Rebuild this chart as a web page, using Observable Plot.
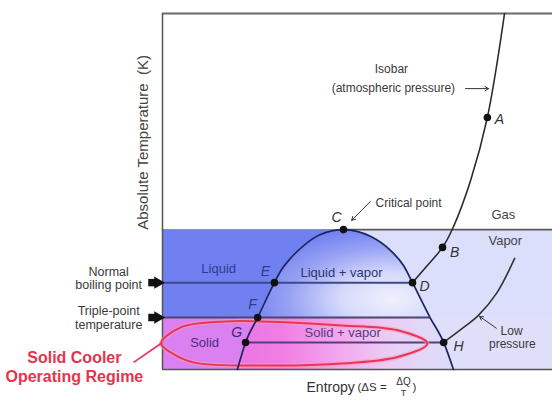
<!DOCTYPE html>
<html><head><meta charset="utf-8">
<script src="https://cdn.jsdelivr.net/npm/d3@7"></script>
<script src="https://cdn.jsdelivr.net/npm/@observablehq/plot@0.6"></script>
<style>body{margin:0;background:#fff;} svg{display:block;}</style>
</head><body><div id="chart"></div>
<script>
// Temperature levels (arbitrary units, 0..100)
const T_CRIT = 39.3, T_BOIL = 24.4, T_TRIPLE = 14.6, T_SV = 7.6;
// Entropy positions of key points
const S_C = 46.4, S_D = 64.1, S_R = 68.6, S_G = 21.3, S_H = 72.1;

// Saturation dome + fusion line (entropy, temperature)
const domeS = [19.2, 21.3, 24.4, 28.7, 30.5, 32.8, 36.2, 40.5, 46.4, 53.3, 58.5, 61.8, 64.1, 68.6, 72.1, 74.6];
const domeT = [0, 7.6, 14.6, 24.4, 28.0, 31.2, 34.8, 37.9, 39.3, 37.4, 33.4, 29.2, 24.4, 14.6, 7.6, 0];
const dome = domeS.map((s, i) => ({s, t: domeT[i]}));
const domeUpper = dome.slice(2, 14);
const domeLower = [...dome.slice(0, 3), ...dome.slice(13)];

// Isobar (atmospheric pressure)
const isoS = [87.7, 83.3, 79.0, 74.4, 71.8, 67.9, 64.1];
const isoT = [100, 70.8, 53.1, 39.6, 34.3, 29.2, 24.4];
const isobar = isoS.map((s, i) => ({s, t: isoT[i]}));

// Low-pressure isobar
const lowS = [72.1, 77.2, 81.0, 85.6, 90.3];
const lowT = [7.6, 11.8, 15.2, 21.3, 31.2];
const lowP = lowS.map((s, i) => ({s, t: lowT[i]}));

// Marked states
const pointNames = ["A", "B", "C", "D", "E", "F", "G", "H"];
const pointS = [83.3, 71.8, 46.4, 64.1, 28.7, 24.4, 21.3, 72.1];
const pointT = [70.8, 34.3, 39.3, 24.4, 24.4, 14.6, 7.6, 7.6];
const points = pointNames.map((n, i) => ({n, s: pointS[i], t: pointT[i]}));

// Solid cooler operating regime outline
const ellS = [-0.4, 4.6, 16.2, 27.7, 44.9, 60.3, 67.9, 60.3, 44.9, 27.7, 7.9, 2.1];
const ellT = [7.3, 11.8, 13.5, 13.4, 12.4, 11.0, 7.3, 3.5, 1.6, 1.1, 2.0, 4.8];
const ellipse = ellS.map((s, i) => ({s, t: ellT[i]}));

// Phase regions
const regions = [
  {s1: 0, s2: S_C, t1: T_TRIPLE, t2: T_CRIT, fill: "#7080f0"},
  {s1: S_C, s2: 100, t1: T_TRIPLE, t2: T_CRIT, fill: "#dcdffb"},
  {s1: 0, s2: S_C, t1: 0, t2: T_TRIPLE, fill: "#da80f0"},
  {s1: S_C, s2: 100, t1: 0, t2: T_TRIPLE, fill: "#dfdffa"}
];

// Horizontal isotherms
const isotherms = [
  {t: T_CRIT, s1: S_C, s2: 100, stroke: "#5a5a5a", w: 1.6},
  {t: T_BOIL, s1: 0, s2: S_D, stroke: "#3d4a8a", w: 2},
  {t: T_TRIPLE, s1: 0, s2: S_R, stroke: "#4a4670", w: 2},
  {t: T_SV, s1: S_G, s2: S_H, stroke: "#5a3c80", w: 2}
];

const phaseLabels = [
  {text: "Liquid", s: 14.4, t: 28.4, c: "#2d3c8c"},
  {text: "Liquid + vapor", s: 45.9, t: 27.2, c: "#2e3570"},
  {text: "Solid", s: 10.8, t: 7.6, c: "#4b2d7d"},
  {text: "Solid + vapor", s: 46.2, t: 10.3, c: "#5a3a80"},
  {text: "Gas", s: 87.4, t: 43.5, c: "#444"},
  {text: "Vapor", s: 87.9, t: 36.2, c: "#444"}
];
const letterLabels = [
  {text: "A", s: 86.4, t: 70.2, c: "#333"},
  {text: "B", s: 74.9, t: 32.9, c: "#333"},
  {text: "C", s: 44.6, t: 42.7, c: "#333"},
  {text: "D", s: 67.2, t: 23.3, c: "#333"},
  {text: "E", s: 26.4, t: 27.5, c: "#2d3c8c"},
  {text: "F", s: 23.1, t: 18.3, c: "#2d3c8c"},
  {text: "G", s: 19.0, t: 10.4, c: "#3d2d6d"},
  {text: "H", s: 75.9, t: 6.5, c: "#333"}
];
const notes = [
  {text: "Isobar", s: 58.7, t: 84.3, size: 12},
  {text: "(atmospheric pressure)", s: 59.2, t: 78.9, size: 12},
  {text: "Critical point", s: 63.1, t: 46.6, size: 12},
  {text: "Low", s: 89.5, t: 10.9, size: 12},
  {text: "pressure", s: 89.7, t: 7.0, size: 12},
  {text: "Normal", s: -13.8, t: 27.4, size: 12.5},
  {text: "boiling point", s: -13.8, t: 23.6, size: 12.5},
  {text: "Triple-point", s: -13.8, t: 16.4, size: 12.5},
  {text: "temperature", s: -13.8, t: 12.6, size: 12.5}
];
const arrows = [
  {s1: 77.7, t1: 78.9, s2: 83.6, t2: 78.9},
  {s1: 53.3, t1: 47.2, s2: 48.5, t2: 41.9},
  {s1: 85.6, t1: 11.6, s2: 81.3, t2: 14.9}
];
const markers = [{t: T_BOIL}, {t: T_TRIPLE}];

const chart = Plot.plot({
  width: 552, height: 401,
  marginLeft: 162, marginRight: 0, marginTop: 13, marginBottom: 32,
  x: {domain: [0, 100], axis: null},
  y: {domain: [0, 100], axis: null},
  color: {type: "identity"},
  style: {fontFamily: "Liberation Sans, Arial, sans-serif", background: "white", overflow: "visible"},
  marks: [
    Plot.rect(regions, {x1: "s1", x2: "s2", y1: "t1", y2: "t2", fill: "fill"}),
    Plot.areaY(domeLower, {x: "s", y1: 0, y2: "t", curve: "monotone-x", fill: "url(#lowerGrad)"}),
    Plot.areaY(domeUpper, {x: "s", y1: T_TRIPLE, y2: "t", curve: "monotone-x", fill: "url(#domeGrad)"}),
    // frame
    Plot.ruleY([100], {x1: 0, x2: 100, stroke: "#6a6a6a", strokeWidth: 2}),
    Plot.ruleY([0], {x1: 0, x2: 100, stroke: "#555", strokeWidth: 1.3}),
    Plot.ruleX([0], {y1: 0, y2: 100, stroke: "#555", strokeWidth: 1.5}),
    Plot.ruleY(isotherms, {y: "t", x1: "s1", x2: "s2", stroke: "stroke", strokeWidth: "w"}),
    // ellipse
    Plot.line(ellipse, {x: "s", y: "t", curve: "catmull-rom-closed", stroke: "#f6a0b6", strokeWidth: 4.5, strokeOpacity: 0.6}),
    Plot.line(ellipse, {x: "s", y: "t", curve: "catmull-rom-closed", stroke: "#e8365a", strokeWidth: 2}),
    Plot.link([{s1: -7.4, t1: 2.0, s2: -0.4, t2: 7.3}], {x1: "s1", y1: "t1", x2: "s2", y2: "t2", stroke: "#e8365a", strokeWidth: 1.8}),
    // curves
    Plot.line(dome, {x: "s", y: "t", curve: "monotone-x", stroke: "#1c2660", strokeWidth: 1.7}),
    Plot.line(isobar, {x: "s", y: "t", curve: "catmull-rom", stroke: "#2b2b2b", strokeWidth: 1.6}),
    Plot.line(lowP, {x: "s", y: "t", curve: "catmull-rom", stroke: "#333", strokeWidth: 1.6}),
    Plot.arrow(arrows, {x1: "s1", y1: "t1", x2: "s2", y2: "t2", stroke: "#333", strokeWidth: 1, headLength: 6}),
    Plot.dot(points, {x: "s", y: "t", r: 3.8, fill: "#111"}),
    // left block arrows
    Plot.dot(markers, {x: -2.7, y: "t", symbol: "square", r: 4.2, fill: "#111"}),
    Plot.dot(markers, {x: -1.2, y: "t", symbol: "triangle", rotate: 90, r: 4.6, fill: "#111"}),
    // labels
    Plot.text(phaseLabels, {x: "s", y: "t", text: "text", fill: "c", fontSize: 13}),
    Plot.text(letterLabels, {x: "s", y: "t", text: "text", fill: "c", fontSize: 14, fontStyle: "italic"}),
    Plot.text(notes, {x: "s", y: "t", text: "text", fontSize: "size", fill: "#3a3a3a"}),
    Plot.text(["Solid Cooler", "Operating Regime"], {x: -22.6, y: [3.4, -2.2], text: d => d, fontSize: 16, fontWeight: "bold", fill: "#e4344e"}),
    Plot.text(["Absolute Temperature  (K)"], {x: -4.9, y: 63.8, text: d => d, rotate: -90, fontSize: 15, fill: "#444"}),
    Plot.text(["Entropy"], {x: 49.3, y: -5.0, text: d => d, textAnchor: "end", fontSize: 14, fill: "#333"}),
    Plot.text(["(ΔS ="], {x: 50.0, y: -5.0, text: d => d, textAnchor: "start", fontSize: 11.5, fill: "#333"}),
    Plot.text(["ΔQ"], {x: 61.8, y: -3.4, text: d => d, fontSize: 10, fill: "#333"}),
    Plot.text(["T"], {x: 61.8, y: -6.7, text: d => d, fontSize: 9, fill: "#333"}),
    Plot.text([")"], {x: 64.6, y: -5.0, text: d => d, fontSize: 11.5, fill: "#333"})
  ]
});

const defs = d3.select(chart).insert("defs", ":first-child");
const rg = defs.append("radialGradient").attr("id", "domeGrad")
  .attr("cx", 0.78).attr("cy", 0.8).attr("r", 0.85);
[[0, "#f0f0fe"], [0.35, "#d6dafb"], [0.7, "#98a2f4"], [1, "#7080f0"]]
  .forEach(([o, c]) => rg.append("stop").attr("offset", o).attr("stop-color", c));
const lg = defs.append("linearGradient").attr("id", "lowerGrad")
  .attr("x1", 0).attr("x2", 1).attr("y1", 0).attr("y2", 0);
[[0, "#ea76e6"], [0.2, "#f07ce4"], [0.48, "#f2a8ee"], [0.68, "#eccaf4"], [0.86, "#e2d8f8"], [1, "#dcdaf8"]]
  .forEach(([o, c]) => lg.append("stop").attr("offset", o).attr("stop-color", c));

document.getElementById("chart").appendChild(chart);
</script>
</body></html>
